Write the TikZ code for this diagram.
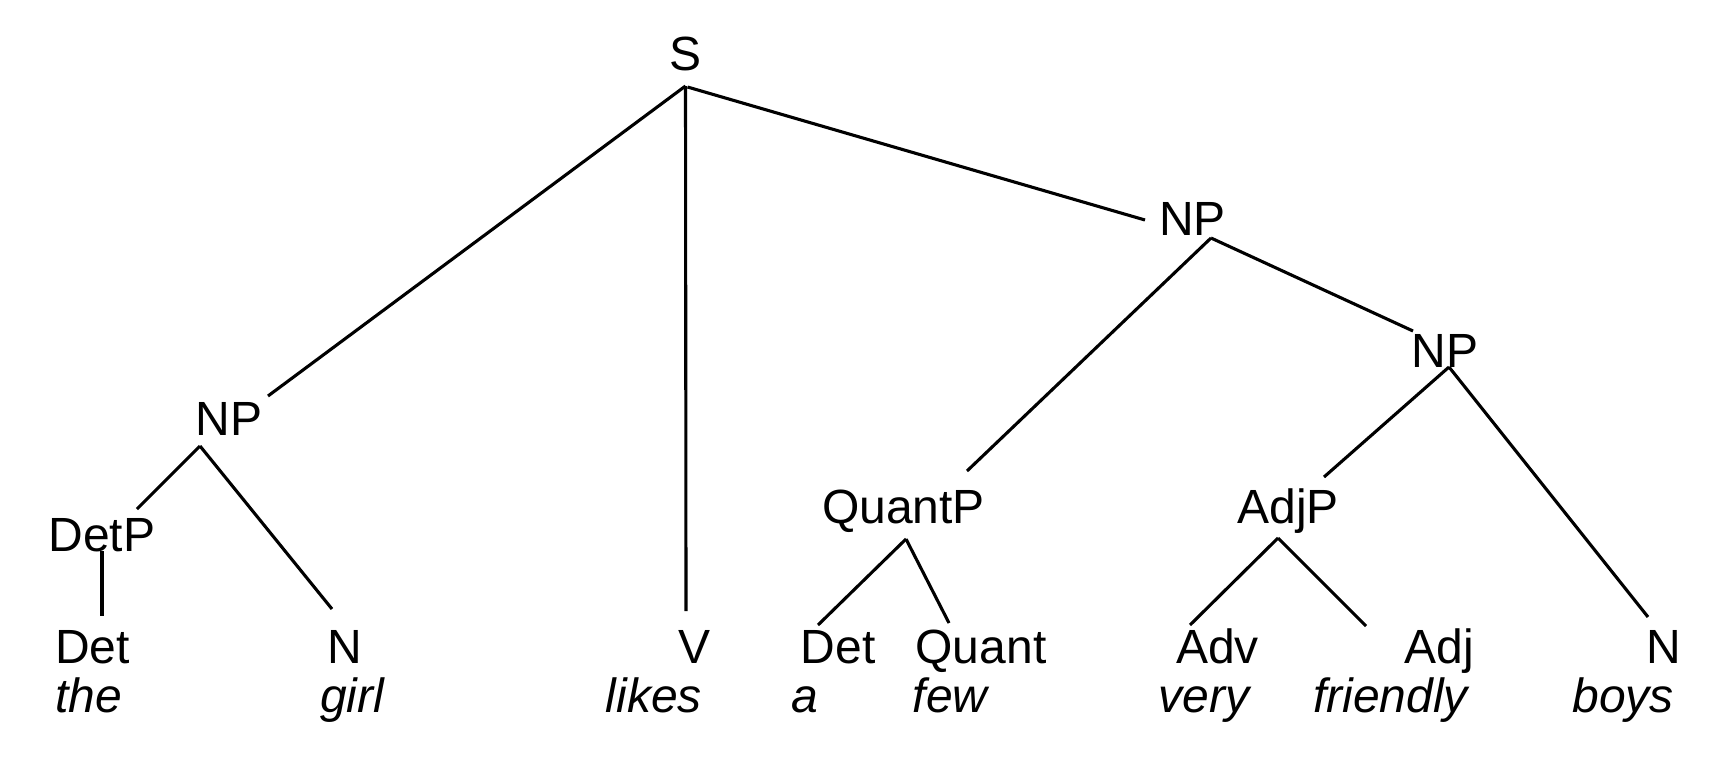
\documentclass[tikz,border=0pt]{standalone}
\usepackage{fontspec}
\setmainfont{Liberation Sans}
\usetikzlibrary{calc}
\begin{document}
\begin{tikzpicture}[x=1pt,y=-1pt,
  lbl/.style={anchor=base, inner sep=0pt, font=\fontsize{48}{58}\selectfont},
  word/.style={anchor=base, inner sep=0pt, font=\fontsize{48}{58}\selectfont\itshape},
  edge/.style={line width=3.1pt, line cap=butt}]
\useasboundingbox (0,0) rectangle (1736,756);
% phrase labels
\node[lbl] (s) at (685.5,70) {S};
\node[lbl] (npl) at (229,435) {NP};
\node[lbl] (detp) at (102,551) {DetP};
\node[lbl] (npr) at (1192.5,235) {NP};
\node[lbl] (quantp) at (903.5,523) {QuantP};
\node[lbl] (npi) at (1445,367) {NP};
\node[lbl] (adjp) at (1288,523) {AdjP};
% leaf labels
\node[lbl] (det1) at (92.5,663) {Det};
\node[lbl] (n1) at (345,663) {N};
\node[lbl] (v) at (694,663) {V};
\node[lbl] (det2) at (838,663) {Det};
\node[lbl] (quant) at (981,663) {Quant};
\node[lbl] (adv) at (1217.5,663) {Adv};
\node[lbl] (adj) at (1439,663) {Adj};
\node[lbl] (n2) at (1664,663) {N};
% words
\node[word] (wthe) at (88.5,712) {the};
\node[word] (wgirl) at (352,712) {girl};
\node[word] (wlikes) at (654,712) {likes};
\node[word] (wa) at (805,712) {a};
\node[word] (wfew) at (950,712) {few};
\node[word] (wvery) at (1204,712) {very};
\node[word] (wfriendly) at (1390.5,712) {friendly};
\node[word] (wboys) at (1623,712) {boys};
% connectors
\draw[edge] ($(s.base)+(0,16)$) -- ($(npl.base)+(39,-39)$);
\draw[edge] ($(s.base)+(0,16)$) -- ($(v.base)+(-8,-52)$);
\draw[edge] ($(s.base)+(2,17)$) -- ($(npr.base)+(-47.5,-15)$);
\draw[edge] ($(npl.base)+(-29,11)$) -- ($(detp.base)+(35,-42)$);
\draw[edge] ($(npl.base)+(-29,11)$) -- ($(n1.base)+(-13,-54)$);
\draw[edge] ($(detp.base)+(0,0)$) -- ($(det1.base)+(9.5,-47)$);
\draw[edge] ($(npr.base)+(18.5,3)$) -- ($(quantp.base)+(63.5,-52)$);
\draw[edge] ($(npr.base)+(18.5,3)$) -- ($(npi.base)+(-32,-36)$);
\draw[edge] ($(quantp.base)+(2.5,16)$) -- ($(det2.base)+(-20,-38)$);
\draw[edge] ($(quantp.base)+(2.5,16)$) -- ($(quant.base)+(-32,-40)$);
\draw[edge] ($(npi.base)+(4,0)$) -- ($(adjp.base)+(36,-46)$);
\draw[edge] ($(npi.base)+(4,0)$) -- ($(n2.base)+(-16,-46)$);
\draw[edge] ($(adjp.base)+(-10,15)$) -- ($(adv.base)+(-27.5,-38)$);
\draw[edge] ($(adjp.base)+(-10,15)$) -- ($(adj.base)+(-73,-37)$);
\end{tikzpicture}
\end{document}
